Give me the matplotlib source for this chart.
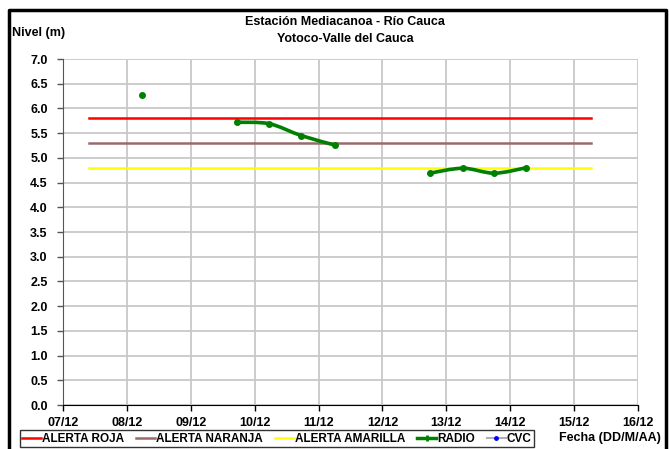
import numpy as np
import matplotlib
matplotlib.use("Agg")
import matplotlib.pyplot as plt
from matplotlib.path import Path
from matplotlib.patches import PathPatch
from matplotlib.lines import Line2D

plt.rcParams['font.family'] = ['Liberation Sans', 'DejaVu Sans']
plt.rcParams['font.weight'] = 'bold'

# days of December
day_ticks = [7, 8, 9, 10, 11, 12, 13, 14, 15, 16]
day_labels = ['07/12', '08/12', '09/12', '10/12', '11/12', '12/12', '13/12', '14/12', '15/12', '16/12']
y_ticks = [0.0, 0.5, 1.0, 1.5, 2.0, 2.5, 3.0, 3.5, 4.0, 4.5, 5.0, 5.5, 6.0, 6.5, 7.0]

alert_x = [7.4, 15.27]
alerta_roja = 5.8
alerta_naranja = 5.3
alerta_amarilla = 4.8

# radio readings, split where the record has gaps
radio_x = [[8.23], [9.73, 10.23, 10.73, 11.25], [12.74, 13.26, 13.75, 14.25]]
radio_y = [[6.27], [5.72, 5.69, 5.45, 5.26], [4.69, 4.79, 4.69, 4.80]]

cvc_x = []
cvc_y = []

fig = plt.figure(figsize=(6.69, 4.49), dpi=100)
ax = fig.add_axes([63/669, 44/449, 575/669, 346/449])

ax.set_xlim(7, 16)
ax.set_ylim(0, 7)
ax.set_xticks(day_ticks)
ax.set_xticklabels(day_labels)
ax.set_yticks(y_ticks)
ax.set_yticklabels(['%.1f' % v for v in y_ticks])
ax.grid(True, color='#c8c8c8', linewidth=1.3)
ax.set_axisbelow(True)
for s in ['top', 'right']:
    ax.spines[s].set_visible(False)
ax.spines['left'].set_color('#555555')
ax.spines['bottom'].set_color('black')
ax.tick_params(axis='both', labelsize=9, length=4, width=1, colors='black')
ax.tick_params(axis='y', color='#555555', pad=7)
ax.tick_params(axis='x', pad=5)

ax.plot(alert_x, [alerta_roja] * 2, color='#ff0000', linewidth=1.8, label='ALERTA ROJA')
ax.plot(alert_x, [alerta_naranja] * 2, color='#9a6a6a', linewidth=1.8, label='ALERTA NARANJA')
ax.plot(alert_x, [alerta_amarilla] * 2, color='#ffff00', linewidth=1.8, label='ALERTA AMARILLA')


def smooth_path(xs, ys):
    pts = np.column_stack([xs, ys])
    verts = [pts[0]]
    codes = [Path.MOVETO]
    n = len(pts)
    for i in range(n - 1):
        p0 = pts[i - 1] if i > 0 else pts[i]
        p1 = pts[i]
        p2 = pts[i + 1]
        p3 = pts[i + 2] if i + 2 < n else pts[i + 1]
        c1 = p1 + (p2 - p0) / 6
        c2 = p2 - (p3 - p1) / 6
        verts += [c1, c2, p2]
        codes += [Path.CURVE4] * 3
    return Path(verts, codes)


for xs, ys in zip(radio_x, radio_y):
    if len(xs) > 1:
        ax.add_patch(PathPatch(smooth_path(xs, ys), facecolor='none',
                               edgecolor='#008000', linewidth=2.6, zorder=3))
    ax.plot(xs, ys, linestyle='none', marker='o', markersize=4, color='#008000', zorder=4)

ax.plot(cvc_x, cvc_y, color='#b0b0b0', marker='o', markersize=3,
        markerfacecolor='#0000ff', markeredgecolor='#0000ff', linewidth=1.5)

handles = [
    Line2D([], [], color='#ff0000', linewidth=1.8),
    Line2D([], [], color='#9a6a6a', linewidth=1.8),
    Line2D([], [], color='#ffff00', linewidth=1.8),
    Line2D([], [], color='#008000', linewidth=2.5, marker='+', markersize=4, markeredgewidth=2),
    Line2D([], [], color='#b0b0b0', linewidth=1.5, marker='o', markersize=2.5,
           markerfacecolor='#0000ff', markeredgecolor='#0000ff'),
]
labels = ['ALERTA ROJA', 'ALERTA NARANJA', 'ALERTA AMARILLA', 'RADIO', 'CVC']
leg = fig.legend(handles, labels, loc='lower left', bbox_to_anchor=(20/669, 2/449),
                 bbox_transform=fig.transFigure, ncol=5, fontsize=8.5, frameon=True,
                 fancybox=False, handlelength=1.6, handletextpad=0.1,
                 columnspacing=1.0, borderpad=0.2, borderaxespad=0)
leg.get_frame().set_edgecolor('black')
leg.get_frame().set_linewidth(1.0)

fig.text(345/669, 1 - 22/449, 'Estación Mediacanoa - Río Cauca', ha='center', va='center',
         fontsize=9, fontweight='bold')
fig.text(345/669, 1 - 39/449, 'Yotoco-Valle del Cauca', ha='center', va='center',
         fontsize=9, fontweight='bold')
fig.text(12/669, 1 - 33/449, 'Nivel (m)', ha='left', va='center', fontsize=9, fontweight='bold')
fig.text(661/669, 1 - 438/449, 'Fecha (DD/M/AA)', ha='right', va='center', fontsize=9,
         fontweight='bold')

# outer frame
fig.add_artist(Line2D([9/669, 9/669, 666/669, 666/669], [0, 1 - 10/449, 1 - 10/449, 0],
                      transform=fig.transFigure, color='black', linewidth=2.5))

fig.savefig('out.png', dpi=100)
